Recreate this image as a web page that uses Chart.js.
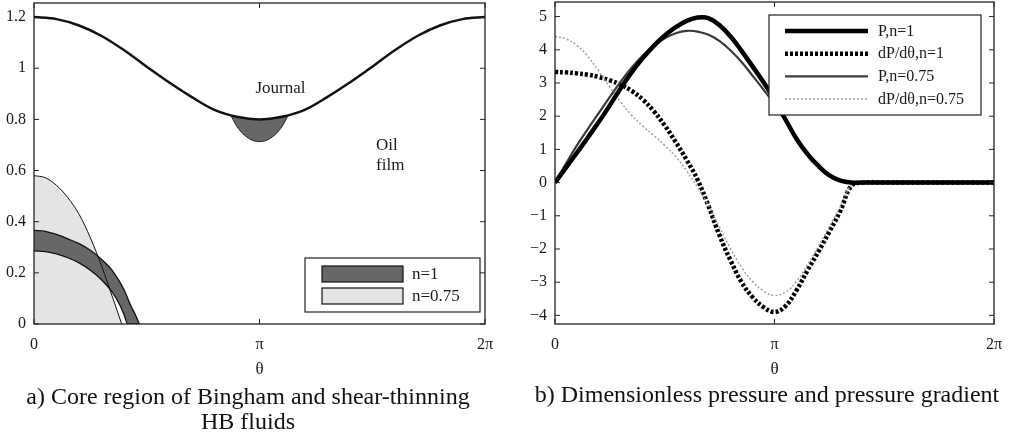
<!DOCTYPE html>
<html lang="en">
<head>
<meta charset="UTF-8">
<title>Core region and pressure</title>
<script src="https://cdn.jsdelivr.net/npm/chart.js"></script>
<style>
    body { margin: 0; background: #fff; }
    #page { position: relative; width: 1009px; height: 435px; background: #fff; font-family: 'Liberation Serif', 'Times New Roman', serif; color: #111; overflow: hidden; }
    #chartA { position: absolute; left: 0; top: 0; }
    #chartB { position: absolute; left: 505px; top: 0; }
    .caption { position: absolute; text-align: center; font-size: 24px; line-height: 25px; white-space: nowrap; }
</style>
</head>
<body>
<div id="page">
    <canvas id="chartA" width="500" height="385"></canvas>
    <canvas id="chartB" width="504" height="385"></canvas>
    <div class="caption" style="left:0; width:496px; top:384px;">a) Core region of Bingham and shear-thinning<br>HB fluids</div>
    <div class="caption" style="left:515px; width:504px; top:382px;">b) Dimensionless pressure and pressure gradient</div>
</div>

<script>
    // theta is given in units of pi
    const xTicks = [0, 1, 2];
    const xTickLabels = ['0', 'π', '2π'];

    // ---- (a) core region ----
    const yTicksA = [0, 0.2, 0.4, 0.6, 0.8, 1, 1.2];
    const yTickLabelsA = ['0', '0.2', '0.4', '0.6', '0.8', '1', '1.2'];

    const thetaJournal = [0, 0.1, 0.2, 0.3, 0.4, 0.5, 0.6, 0.7, 0.8, 0.9, 1.0, 1.1, 1.2, 1.3, 1.4, 1.5, 1.6, 1.7, 1.8, 1.9, 2.0];
    const journal = [1.200, 1.192, 1.167, 1.126, 1.070, 1.006, 0.944, 0.887, 0.837, 0.810, 0.800, 0.810, 0.837, 0.887, 0.944, 1.006, 1.070, 1.126, 1.167, 1.192, 1.200];

    const thetaCoreJ = [0.875, 0.9, 0.925, 0.95, 0.975, 1.0, 1.025, 1.05, 1.075, 1.1, 1.125];
    const coreJ = [0.812, 0.772, 0.745, 0.727, 0.716, 0.713, 0.716, 0.727, 0.745, 0.772, 0.812];

    const thetaOuterN1 = [0, 0.05, 0.1, 0.15, 0.2, 0.25, 0.3, 0.35, 0.4, 0.43, 0.45, 0.467];
    const outerN1 = [0.366, 0.362, 0.350, 0.333, 0.314, 0.288, 0.252, 0.206, 0.133, 0.070, 0.035, 0];

    const thetaInnerN1 = [0, 0.05, 0.1, 0.15, 0.2, 0.25, 0.3, 0.35, 0.38, 0.4, 0.415, 0.467];
    const innerN1 = [0.286, 0.283, 0.274, 0.259, 0.239, 0.210, 0.172, 0.121, 0.075, 0.035, 0, 0];

    const thetaN075 = [0, 0.05, 0.1, 0.15, 0.2, 0.25, 0.3, 0.35, 0.389];
    const coreN075 = [0.580, 0.572, 0.542, 0.494, 0.429, 0.337, 0.226, 0.100, 0];

    // ---- (b) pressure and gradient ----
    const yTicksB = [-4, -3, -2, -1, 0, 1, 2, 3, 4, 5];
    const yTickLabelsB = ['−4', '−3', '−2', '−1', '0', '1', '2', '3', '4', '5'];

    const thetaB = [0, 0.05, 0.1, 0.15, 0.2, 0.25, 0.3, 0.35, 0.4, 0.45, 0.5, 0.55, 0.6, 0.65, 0.7, 0.75, 0.8, 0.85, 0.9, 0.95,
        1.0, 1.05, 1.1, 1.15, 1.2, 1.25, 1.3, 1.35, 1.4, 1.5, 1.6, 1.7, 1.8, 1.9, 2.0];
    const pN1 = [0, 0.45, 0.90, 1.36, 1.83, 2.33, 2.85, 3.33, 3.75, 4.12, 4.43, 4.68, 4.87, 4.97, 4.95, 4.74, 4.40, 3.97, 3.50, 3.02,
        2.50, 1.90, 1.32, 0.86, 0.50, 0.22, 0.06, 0, 0, 0, 0, 0, 0, 0, 0];
    const dpN1 = [3.33, 3.32, 3.29, 3.25, 3.18, 3.08, 2.95, 2.76, 2.50, 2.15, 1.72, 1.22, 0.68, 0.08, -0.72, -1.60, -2.35, -3.00, -3.45, -3.75,
        -3.90, -3.72, -3.25, -2.65, -2.08, -1.48, -0.85, -0.10, 0, 0, 0, 0, 0, 0, 0];
    const pN075 = [0, 0.57, 1.12, 1.62, 2.10, 2.58, 3.05, 3.47, 3.83, 4.12, 4.35, 4.50, 4.57, 4.55, 4.45, 4.26, 3.98, 3.63, 3.22, 2.80,
        2.36, 1.86, 1.32, 0.86, 0.50, 0.22, 0.06, 0, 0, 0, 0, 0, 0, 0, 0];
    const dpN075 = [4.40, 4.33, 4.13, 3.80, 3.35, 2.87, 2.42, 2.02, 1.70, 1.42, 1.12, 0.78, 0.35, -0.15, -0.70, -1.35, -2.00, -2.55, -2.98, -3.27,
        -3.40, -3.30, -2.98, -2.48, -1.92, -1.32, -0.72, -0.08, 0, 0, 0, 0, 0, 0, 0];

    function pts(xs, ys) {
        return xs.map((x, i) => ({ x: x, y: ys[i] }));
    }

    const serif = "'Liberation Serif', 'Times New Roman', serif";
    Chart.defaults.font.family = serif;
    Chart.defaults.color = '#1a1a1a';

    // box around the plot and inward tick marks on all four sides
    const frame = {
        id: 'frame',
        afterDatasetsDraw(chart) {
            const { ctx, chartArea: a, scales } = chart;
            const len = 5;
            ctx.save();
            ctx.strokeStyle = '#222';
            ctx.lineWidth = 1.3;
            ctx.strokeRect(a.left, a.top, a.right - a.left, a.bottom - a.top);
            ctx.lineWidth = 1;
            ctx.beginPath();
            scales.x.ticks.forEach(t => {
                const px = scales.x.getPixelForValue(t.value);
                ctx.moveTo(px, a.bottom); ctx.lineTo(px, a.bottom - len);
                ctx.moveTo(px, a.top); ctx.lineTo(px, a.top + len);
            });
            scales.y.ticks.forEach(t => {
                const py = scales.y.getPixelForValue(t.value);
                ctx.moveTo(a.left, py); ctx.lineTo(a.left + len, py);
                ctx.moveTo(a.right, py); ctx.lineTo(a.right - len, py);
            });
            ctx.stroke();
            ctx.restore();
        }
    };

    function scaleX() {
        return {
            type: 'linear', min: 0, max: 2,
            afterBuildTicks: s => { s.ticks = xTicks.map(v => ({ value: v })); },
            afterFit: s => { s.height = 61; s.paddingLeft = 0; s.paddingRight = 0; },
            ticks: { callback: (v, i) => xTickLabels[i], padding: 11, font: { size: 16 }, maxRotation: 0, autoSkip: false },
            grid: { display: false, drawTicks: false },
            border: { display: false },
            title: { display: true, text: 'θ', font: { size: 17 }, color: '#222', padding: { top: 0, bottom: 5 } }
        };
    }

    function scaleY(min, max, ticks, labels, width) {
        return {
            min: min, max: max,
            afterBuildTicks: s => { s.ticks = ticks.map(v => ({ value: v })); },
            afterFit: s => { s.width = width; s.paddingTop = 0; s.paddingBottom = 0; },
            ticks: { callback: (v, i) => labels[i], padding: 8, font: { size: 16 }, autoSkip: false },
            grid: { display: false, drawTicks: false },
            border: { display: false }
        };
    }

    const common = {
        responsive: false,
        animation: false,
        devicePixelRatio: 1,
        events: []
    };

    // ---------- chart (a) ----------
    const legendA = {
        id: 'legendA',
        afterDatasetsDraw(chart) {
            const { ctx, chartArea: a } = chart;
            const w = 175, h = 54;
            const bx = a.right - 5 - w, by = a.bottom - 12 - h;
            const items = [chart.data.datasets[2], chart.data.datasets[4]];
            ctx.save();
            ctx.fillStyle = '#fff';
            ctx.strokeStyle = '#222';
            ctx.lineWidth = 1.2;
            ctx.fillRect(bx, by, w, h);
            ctx.strokeRect(bx, by, w, h);
            ctx.font = '17px ' + serif;
            ctx.textBaseline = 'middle';
            items.forEach((ds, i) => {
                const py = by + 8 + i * 22;
                ctx.fillStyle = ds.backgroundColor;
                ctx.fillRect(bx + 17, py, 81, 16);
                ctx.strokeStyle = '#111';
                ctx.strokeRect(bx + 17, py, 81, 16);
                ctx.fillStyle = '#1a1a1a';
                ctx.fillText(ds.label, bx + 107, py + 8.5);
            });
            ctx.restore();
        }
    };

    const notesA = {
        id: 'notesA',
        afterDatasetsDraw(chart) {
            const { ctx, scales: { x, y } } = chart;
            ctx.save();
            ctx.font = '17px ' + serif;
            ctx.fillStyle = '#1a1a1a';
            ctx.textBaseline = 'middle';
            ctx.fillText('Journal', x.getPixelForValue(0.982), y.getPixelForValue(0.92));
            ctx.fillText('Oil', x.getPixelForValue(1.517), y.getPixelForValue(0.696));
            ctx.fillText('film', x.getPixelForValue(1.517), y.getPixelForValue(0.618));
            ctx.restore();
        }
    };

    new Chart(document.getElementById('chartA'), {
        type: 'line',
        data: {
            datasets: [
                { label: 'Journal', data: pts(thetaJournal, journal), borderColor: '#111', borderWidth: 2.5, fill: false },
                { label: 'n=1', data: pts(thetaCoreJ, coreJ), borderColor: '#222', borderWidth: 1, backgroundColor: '#676767', fill: { target: 0 } },
                { label: 'n=1', data: pts(thetaOuterN1, outerN1), borderColor: '#111', borderWidth: 1.3, backgroundColor: '#676767', fill: { target: 3 } },
                { label: 'n=1 inner', data: pts(thetaInnerN1, innerN1), borderColor: '#111', borderWidth: 1.3, fill: false },
                { label: 'n=0.75', data: pts(thetaN075, coreN075), borderColor: '#111', borderWidth: 1, backgroundColor: '#e4e4e4', fill: 'origin' }
            ]
        },
        options: Object.assign({}, common, {
            elements: { point: { radius: 0 }, line: { cubicInterpolationMode: 'monotone', fill: false } },
            layout: { padding: { left: 0, right: 15, top: 3, bottom: 0 } },
            plugins: { legend: { display: false }, tooltip: { enabled: false }, filler: { drawTime: 'beforeDatasetsDraw' } },
            scales: { x: scaleX(), y: scaleY(0, 1.255, yTicksA, yTickLabelsA, 34) }
        }),
        plugins: [frame, notesA, legendA]
    });

    // ---------- chart (b) ----------
    const legendB = {
        id: 'legendB',
        afterDatasetsDraw(chart) {
            const { ctx, chartArea: a } = chart;
            const w = 212, h = 100;
            const bx = a.right - 13 - w, by = a.top + 13;
            ctx.save();
            ctx.fillStyle = '#fff';
            ctx.strokeStyle = '#222';
            ctx.lineWidth = 1.2;
            ctx.fillRect(bx, by, w, h);
            ctx.strokeRect(bx, by, w, h);
            ctx.font = '16px ' + serif;
            ctx.textBaseline = 'middle';
            chart.data.datasets.forEach((ds, i) => {
                const py = by + 16 + i * 22.7;
                ctx.strokeStyle = ds.borderColor;
                ctx.lineWidth = ds.borderWidth;
                ctx.setLineDash(ds.borderDash || []);
                ctx.beginPath();
                ctx.moveTo(bx + 16, py);
                ctx.lineTo(bx + 99, py);
                ctx.stroke();
                ctx.setLineDash([]);
                ctx.fillStyle = '#1a1a1a';
                ctx.fillText(ds.label, bx + 109, py + 0.5);
            });
            ctx.restore();
        }
    };

    new Chart(document.getElementById('chartB'), {
        type: 'line',
        data: {
            datasets: [
                { label: 'P,n=1', data: pts(thetaB, pN1), borderColor: '#000', borderWidth: 4.5, order: 1 },
                { label: 'dP/dθ,n=1', data: pts(thetaB, dpN1), borderColor: '#000', borderWidth: 4.5, borderDash: [3, 2], borderCapStyle: 'butt', order: 4 },
                { label: 'P,n=0.75', data: pts(thetaB, pN075), borderColor: '#3a3a3a', borderWidth: 2.2, order: 2 },
                { label: 'dP/dθ,n=0.75', data: pts(thetaB, dpN075), borderColor: '#a0a0a0', borderWidth: 1.5, borderDash: [2, 2], order: 3 }
            ]
        },
        options: Object.assign({}, common, {
            elements: { point: { radius: 0 }, line: { tension: 0.4, fill: false } },
            layout: { padding: { left: 0, right: 15, top: 2, bottom: 0 } },
            plugins: { legend: { display: false }, tooltip: { enabled: false } },
            scales: { x: scaleX(), y: scaleY(-4.26, 5.44, yTicksB, yTickLabelsB, 50) }
        }),
        plugins: [frame, legendB]
    });
</script>
</body>
</html>
